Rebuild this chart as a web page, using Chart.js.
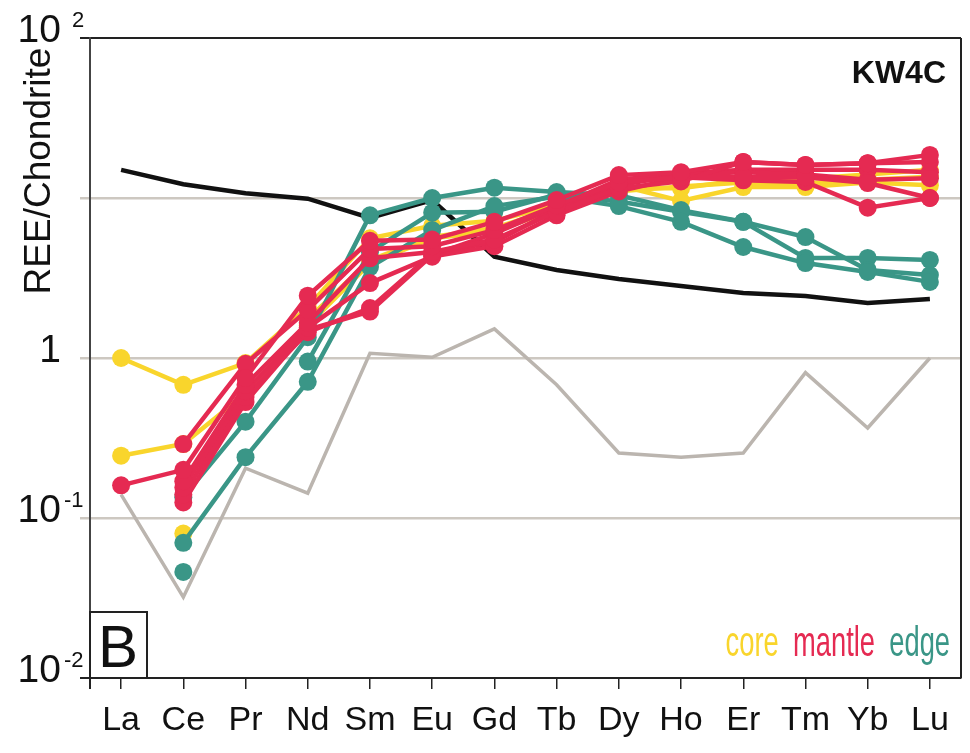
<!DOCTYPE html>
<html>
<head>
<meta charset="utf-8">
<script src="https://cdn.jsdelivr.net/npm/chart.js@4.4.1/dist/chart.umd.min.js"></script>
<style>
  html, body { margin: 0; padding: 0; background: #fff; }
  #chart { display: block; }
</style>
</head>
<body>
<canvas id="chart" width="970" height="753"></canvas>
<script>
// REE elements (x categories)
const elements = ['La', 'Ce', 'Pr', 'Nd', 'Sm', 'Eu', 'Gd', 'Tb', 'Dy', 'Ho', 'Er', 'Tm', 'Yb', 'Lu'];

// y tick values and how their labels are written (base + superscript)
const yTickValues = [0.01, 0.1, 1, 10, 100];
const yTickBase = { 100: '10', 1: '1', 0.1: '10', 0.01: '10' };
const yTickExp = { 100: '2', 1: '', 0.1: '-1', 0.01: '-2' };

// reference patterns
const refBlack = [15.0, 12.2, 10.7, 9.9, 7.5, 9.7, 4.3, 3.55, 3.12, 2.82, 2.55, 2.44, 2.21, 2.34];
const refGrey = [0.14, 0.032, 0.205, 0.143, 1.07, 1.01, 1.52, 0.68, 0.255, 0.24, 0.255, 0.81, 0.365, 1.0];

// core analyses
const core1 = [1.0, 0.68, 0.93, 2.08, 5.6, 6.7, 7.2, 9.0, 12.0, 9.6, 11.7, 11.7, 12.5, 12.0];
const core2 = [0.245, 0.29, 0.60, 1.6, 3.9, 5.6, 6.2, 8.5, 11.5, 11.5, 13.0, 13.2, 14.0, 15.0];
const core3 = [null, 0.08, null, 1.75, 4.1, 5.7, 6.5, 8.6, 11.0, 11.8, 12.5, 12.3, 13.0, 13.6];

// mantle analyses
const mantle1 = [0.16, 0.20, 0.75, 2.45, 5.4, 5.5, 7.1, 9.7, 13.9, 14.5, 16.8, 16.1, 16.5, 18.6];
const mantle2 = [null, 0.29, 0.92, 2.0, 4.8, 5.0, 6.3, 9.0, 12.5, 13.5, 13.5, 13.5, 12.4, 10.0];
const mantle3 = [null, 0.17, 0.68, 1.66, 4.2, 4.6, 5.5, 8.2, 11.5, 12.7, 16.8, 16.1, 16.5, 16.8];
const mantle4 = [null, 0.155, 0.62, 1.55, 2.94, 4.3, 5.0, 7.8, 11.0, 13.5, 12.9, 12.6, 8.7, 10.0];
const mantle5 = [null, 0.14, 0.57, 1.45, 2.05, 4.5, 5.3, 8.5, 12.0, 14.0, 14.5, 14.0, 13.0, 13.3];
const mantle6 = [null, 0.125, 0.53, 1.5, 1.95, 4.4, 6.0, 8.8, 13.0, 14.2, 15.0, 15.0, 15.0, 14.5];

// edge analyses
const edge1 = [null, 0.07, 0.24, 0.71, 3.7, 6.3, 8.9, 10.2, 8.9, 7.1, 4.94, 3.92, 3.45, 2.99];
const edge2 = [null, 0.135, 0.40, 1.35, 7.8, 10.0, 11.6, 10.9, 10.4, 8.4, 7.1, 5.7, 3.55, 3.3];
const edge3 = [null, 0.046, null, 0.95, 4.6, 8.1, 8.2, 10.5, 9.5, 8.2, 7.1, 4.22, 4.22, 4.1];

const coreColor = '#f9d52c';
const mantleColor = '#e52a52';
const edgeColor = '#3a9687';
const FONT = "'Liberation Sans', Arial, sans-serif";

function sample(values, color) {
    return {
        data: values,
        borderColor: color,
        backgroundColor: color,
        borderWidth: 4.5,
        pointRadius: 9,
        pointBorderWidth: 0,
        pointBackgroundColor: color,
        tension: 0
    };
}

function refLine(values, color, width) {
    return {
        data: values,
        borderColor: color,
        borderWidth: width,
        pointRadius: 0,
        tension: 0
    };
}

// first dataset is drawn on top
const datasets = [
    ...[mantle1, mantle2, mantle3, mantle4, mantle5, mantle6].map(d => sample(d, mantleColor)),
    ...[edge1, edge2, edge3].map(d => sample(d, edgeColor)),
    ...[core1, core2, core3].map(d => sample(d, coreColor)),
    refLine(refBlack, '#111', 4.5),
    refLine(refGrey, '#bbb5af', 3.5)
];

// texts, frame pieces and the y labels with exponents
const annotate = {
    id: 'annotate',
    afterDraw(chart) {
        const ctx = chart.ctx;
        const a = chart.chartArea;
        const y = chart.scales.y;
        ctx.save();

        ctx.strokeStyle = '#222';
        ctx.lineWidth = 2;
        ctx.beginPath();
        ctx.moveTo(a.right, a.top);
        ctx.lineTo(a.right, a.bottom);
        ctx.moveTo(a.left, a.bottom);
        ctx.lineTo(a.left, a.bottom + 11);
        ctx.stroke();

        // panel letter
        ctx.fillStyle = '#fff';
        ctx.fillRect(a.left, a.bottom - 66, 57, 66);
        ctx.strokeRect(a.left, a.bottom - 66, 57, 66);
        ctx.fillStyle = '#111';
        ctx.font = '60px ' + FONT;
        ctx.textAlign = 'center';
        ctx.textBaseline = 'alphabetic';
        ctx.fillText('B', a.left + 28, a.bottom - 11);

        // sample name
        ctx.font = 'bold 32px ' + FONT;
        ctx.textAlign = 'right';
        ctx.fillText('KW4C', 946, 83);

        // legend words (narrow type)
        ctx.save();
        ctx.translate(950, 656);
        ctx.scale(0.65, 1);
        ctx.font = '42px ' + FONT;
        let x = 0;
        [['edge', edgeColor], ['mantle', mantleColor], ['core', coreColor]].forEach(([t, c]) => {
            ctx.fillStyle = c;
            ctx.fillText(t, x, 0);
            x -= ctx.measureText(t).width + 22;
        });
        ctx.restore();

        // y tick labels
        ctx.fillStyle = '#111';
        yTickValues.filter(v => v !== 10).forEach(v => {
            const py = y.getPixelForValue(v) - 7;
            ctx.font = '39px ' + FONT;
            ctx.textAlign = 'right';
            ctx.textBaseline = 'middle';
            ctx.fillText(yTickBase[v], 61, py);
            const exp = yTickExp[v];
            if (exp) {
                ctx.font = '22px ' + FONT;
                ctx.textAlign = 'left';
                ctx.fillText(exp, exp.length === 1 ? 72 : 64, py - 10);
            }
        });

        // axis title
        ctx.translate(40, 171);
        ctx.rotate(-Math.PI / 2);
        ctx.font = '37px ' + FONT;
        ctx.textAlign = 'center';
        ctx.textBaseline = 'middle';
        ctx.fillText('REE/Chondrite', 0, 0);
        ctx.restore();
    }
};

new Chart(document.getElementById('chart'), {
    type: 'line',
    data: { labels: elements, datasets: datasets },
    plugins: [annotate],
    options: {
        responsive: false,
        animation: false,
        devicePixelRatio: 1,
        layout: { padding: { top: 38, right: 2, left: 0, bottom: 0 } },
        plugins: { legend: { display: false }, tooltip: { enabled: false } },
        scales: {
            x: {
                type: 'category',
                offset: true,
                grid: { drawOnChartArea: false, drawTicks: true, tickLength: 11, color: '#222', lineWidth: 1.5 },
                border: { display: true, color: '#222', width: 2 },
                ticks: { color: '#111', font: { family: FONT, size: 34 }, padding: 11, maxRotation: 0, autoSkip: false },
                afterFit: s => { s.height = 75; s.paddingLeft = 0; s.paddingRight = 0; }
            },
            y: {
                type: 'logarithmic',
                min: 0.01,
                max: 100,
                afterBuildTicks: s => { s.ticks = yTickValues.map(v => ({ value: v })); },
                afterFit: s => { s.width = 90; },
                grid: {
                    color: c => (c.tick && (c.tick.value === 100 || c.tick.value === 0.01)) ? '#222' : '#cdc8c1',
                    lineWidth: c => (c.tick && (c.tick.value === 100 || c.tick.value === 0.01)) ? 2 : 2.5,
                    tickLength: 10
                },
                border: { display: true, color: '#444', width: 2 },
                ticks: { display: false }
            }
        }
    }
});
</script>
</body>
</html>
